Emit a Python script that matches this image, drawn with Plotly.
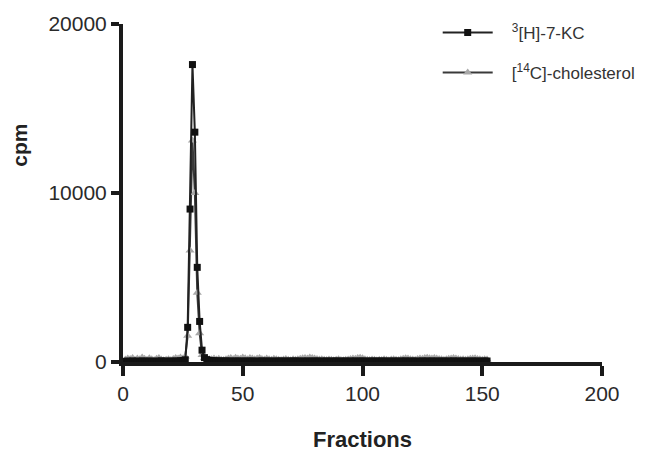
import plotly.graph_objects as go

fractions = list(range(1, 153))

kc_cpm = [
    40, 55, 35, 60, 45, 50, 38, 62, 48, 42,
    58, 44, 36, 52, 47, 65, 40, 55, 43, 50,
    46, 60, 52, 70, 85,
    130, 2050, 9050, 17600, 13600, 5600, 2400, 700, 260, 140,
    95, 80, 72, 66, 60, 58, 55, 62, 50, 57,
    48, 53, 61, 45, 52, 58, 47, 55, 60, 44,
    51, 49, 63, 46, 54, 58, 43, 50, 56, 48,
    60, 45, 52, 57, 49, 53, 62, 47, 51, 55,
    44, 58, 50, 46, 61, 53, 48, 56, 42, 59,
    51, 47, 54, 60, 45, 52, 49, 57, 43, 55,
    50, 58, 46, 53, 61, 48, 44, 56, 52, 49,
    57, 45, 60, 51, 47, 54, 42, 58, 50, 46,
    55, 49, 62, 44, 53, 57, 48, 51, 45, 59,
    50, 54, 47, 61, 43, 56, 52, 48, 58, 46,
    53, 49, 60, 45, 55, 51, 47, 57, 44, 52,
    58, 48, 54, 50, 46, 56, 60,
]

chol_cpm = [
    150, 210, 180, 240, 130, 200, 170, 260, 190, 140,
    220, 160, 120, 190, 230, 150, 110, 140, 170, 120,
    180, 240, 210, 260, 200,
    320, 1550, 6600, 13100, 10000, 4100, 1700, 420, 230, 190,
    170, 160, 210, 150, 190, 140, 120, 170, 200, 230,
    180, 250, 210, 190, 260, 220, 170, 240, 200, 160,
    210, 230, 180, 150, 200, 170, 130, 190, 160, 140,
    120, 150, 180, 140, 110, 160, 130, 170, 190, 220,
    240, 210, 260, 230, 200, 180, 150, 170, 140, 120,
    150, 130, 110, 140, 160, 120, 100, 130, 150, 180,
    210, 190, 230, 250, 220, 170, 140, 120, 150, 130,
    110, 140, 120, 160, 130, 100, 150, 170, 140, 120,
    160, 190, 220, 200, 170, 150, 130, 180, 210, 190,
    230, 250, 220, 200, 240, 210, 180, 160, 140, 170,
    190, 210, 230, 200, 180, 150, 170, 140, 160, 190,
    200, 220, 180, 160, 140, 170, 150,
]

x_ticks = [0, 50, 100, 150, 200]
y_ticks = [0, 10000, 20000]

sp = "\u00a0\u00a0\u00a0"

fig = go.Figure()
fig.add_trace(go.Scatter(
    x=fractions, y=chol_cpm, mode="lines+markers",
    name=sp + "[<sup>14</sup>C]-cholesterol", legendgroup="b", legendrank=2,
    line=dict(color="#3a3a3a", width=2),
    marker=dict(symbol="triangle-up", size=8, color="#a8a8a8"),
    cliponaxis=False,
))
fig.add_trace(go.Scatter(
    x=fractions, y=kc_cpm, mode="lines+markers",
    name=sp + "<sup>3</sup>[H]-7-KC", legendgroup="a", legendrank=1,
    line=dict(color="#222222", width=2),
    marker=dict(symbol="square", size=7, color="#111111"),
    cliponaxis=False,
))

fig.update_layout(
    width=646, height=447,
    margin=dict(l=115, r=52, t=16, b=93, autoexpand=False),
    paper_bgcolor="white", plot_bgcolor="white",
    font=dict(family="Liberation Sans, Arial, sans-serif", color="#2a2a2a"),
    legend=dict(
        x=0.657, y=1.027, xanchor="left", yanchor="top",
        traceorder="grouped", tracegroupgap=15,
        itemwidth=50, font=dict(size=17, color="#333333"),
        bgcolor="rgba(0,0,0,0)",
    ),
    xaxis=dict(
        range=[0, 200], tickvals=x_ticks, ticktext=[str(v) for v in x_ticks],
        showgrid=False, zeroline=False, showline=True, linecolor="#1a1a1a", linewidth=4,
        ticks="outside", ticklen=10, tickwidth=4, tickcolor="#1a1a1a",
        tickfont=dict(size=21, color="#2a2a2a"), automargin=False,
        title=dict(text="<b>Fractions</b>", font=dict(size=22, color="#222222"), standoff=28),
    ),
    yaxis=dict(
        range=[0, 20000], tickvals=y_ticks, ticktext=[str(v) for v in y_ticks],
        showgrid=False, zeroline=False, showline=True, linecolor="#1a1a1a", linewidth=4,
        ticks="outside", ticklen=8, tickwidth=4, tickcolor="#1a1a1a",
        tickfont=dict(size=21, color="#2a2a2a"), automargin=False,
    ),
    annotations=[dict(
        text="<b>cpm</b>", xref="paper", yref="paper", x=-0.215, y=0.64,
        xanchor="center", yanchor="middle", textangle=-90, showarrow=False,
        font=dict(size=21, color="#222222"),
    )],
)

fig.write_html("out.html")
